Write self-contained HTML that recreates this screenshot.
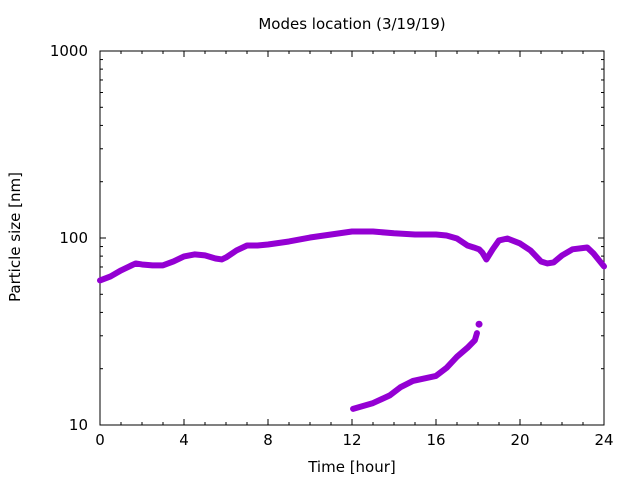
<!DOCTYPE html>
<html><head><meta charset="utf-8"><style>
body{margin:0;background:#fff}
svg{display:block;font-family:"DejaVu Sans","Liberation Sans",sans-serif}
</style></head><body>
<svg id="c" width="640" height="480">
<text x="352" y="29" font-size="15" text-anchor="middle">Modes location (3/19/19)</text>
<text x="352" y="472" font-size="15" text-anchor="middle">Time [hour]</text>
<text transform="translate(20,237) rotate(-90)" font-size="15" text-anchor="middle">Particle size [nm]</text>
<g id="axes"></g>
<g id="marks"></g>
</svg>
<script>
const xTicks=[0,4,8,12,16,20,24];
const yTicks=[10,100,1000];
const upperHours=[0,0.5,1,1.5,1.7,2,2.5,3,3.5,4,4.5,5,5.5,5.8,6,6.5,7,7.5,8,9,10,11,12,13,14,15,16,16.5,17,17.5,17.8,18.05,18.2,18.4,18.7,19.0,19.4,20,20.5,21,21.3,21.6,22,22.5,23.2,23.5,24];
const upperValues=[59.3,62.3,67.1,71.4,73.1,72.2,71.4,71.4,74.9,79.7,81.7,80.7,77.7,76.8,78.7,85.8,91.2,91.2,92.3,95.8,100.6,104.4,108.3,108.3,106.0,104.4,104.4,103.1,99.4,91.2,89.0,87.0,83.7,76.8,87.0,97.1,99.4,93.5,85.8,74.9,73.1,74.0,80.7,87.0,89.0,82.7,70.5];
const lowerHours=[12.05,13,13.8,14.3,14.9,16,16.5,17,17.5,17.85,17.95];
const lowerValues=[12.2,13.1,14.4,15.9,17.2,18.3,20.2,23.2,25.9,28.4,31.0];
const outlierHours=[18.05];
const outlierValues=[34.6];

const L=100,R=604,T=51,B=425;
const X=h=>L+(h/24)*(R-L);
const Y=v=>B-(Math.log10(v)-1)/2*(B-T);
const NS="http://www.w3.org/2000/svg";
const ax=document.getElementById('axes'),mk=document.getElementById('marks');
function mkEl(tag,attrs,parent){const e=document.createElementNS(NS,tag);for(const k in attrs)e.setAttribute(k,attrs[k]);parent.appendChild(e);return e;}
const frame=mkEl('rect',{x:L,y:T,width:R-L,height:B-T,fill:'none',stroke:'#000','stroke-width':1},ax);


for(let h=0;h<=24;h++){const major=h%4===0,len=major?6:3;
 const t1=mkEl('line',{x1:X(h),x2:X(h),y1:B,y2:B-len,stroke:'#000'},ax);
 
 
 mkEl('line',{x1:X(h),x2:X(h),y1:T,y2:T+len,stroke:'#000'},ax);}
xTicks.forEach(h=>{const t=mkEl('text',{x:X(h),y:B+20,'font-size':15,'text-anchor':'middle'},ax);t.textContent=h;
 
 });
for(let d=10;d<1000;d*=10){for(let m=1;m<10;m++){const v=d*m,major=m===1,len=major?6:3;
 const t2=mkEl('line',{x1:L,x2:L+len,y1:Y(v),y2:Y(v),stroke:'#000'},ax);
 
 
 mkEl('line',{x1:R,x2:R-len,y1:Y(v),y2:Y(v),stroke:'#000'},ax);}}
yTicks.forEach(v=>{const t=mkEl('text',{x:L-12,y:Y(v)+5,'font-size':15,'text-anchor':'end'},ax);t.textContent=v;
 
 });
function series(hs,vs,name){
 const p=mkEl('polyline',{points:hs.map((h,i)=>X(h)+','+Y(vs[i])).join(' '),fill:'none',stroke:'#9400d3','stroke-width':6,'stroke-linejoin':'round','stroke-linecap':'round'},mk);
 
 }
series(upperHours,upperValues,'upper-mode-series');
series(lowerHours,lowerValues,'lower-mode-series');
outlierHours.forEach((h,i)=>{const c=mkEl('circle',{cx:X(h),cy:Y(outlierValues[i]),r:3.5,fill:'#9400d3'},mk);
 
 });
</script>
</body></html>
